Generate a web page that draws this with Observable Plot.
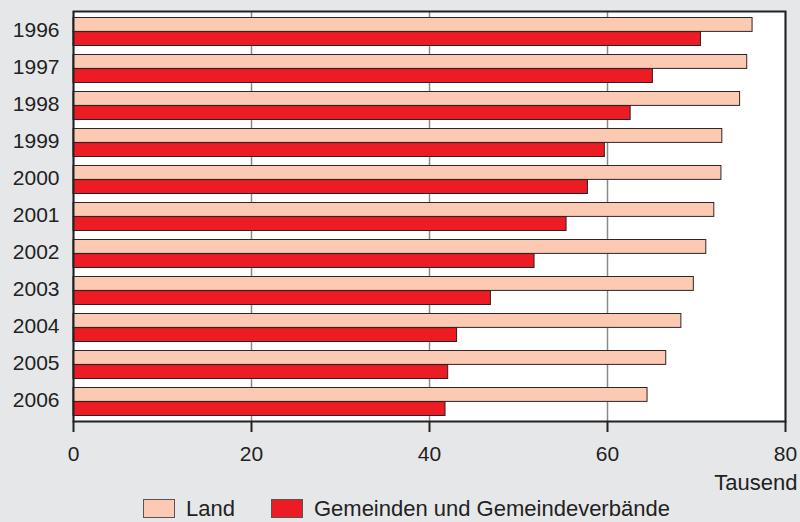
<!DOCTYPE html>
<html>
<head>
<meta charset="utf-8">
<script src="https://cdn.jsdelivr.net/npm/d3@7"></script>
<script src="https://cdn.jsdelivr.net/npm/@observablehq/plot@0.6"></script>
<style>
  html, body { margin: 0; padding: 0; background: #e6e7e9; }
  #chart { width: 800px; height: 522px; overflow: hidden; font-family: "Liberation Sans", Arial, sans-serif; }
  #chart svg { display: block; }
  .legend { display: flex; align-items: center; height: 19px; line-height: 19px; margin-top: 3px; padding-left: 143px; font-size: 22px; color: #222; }
  .item { display: flex; align-items: center; height: 19px; }
  .item span.lbl { display: block; height: 19px; line-height: 19px; }
  .sw { box-sizing: border-box; width: 32px; height: 19px; border: 1px solid #555; margin-right: 11px; }
</style>
</head>
<body>
<div id="chart"></div>
<script>
const years = ["1996","1997","1998","1999","2000","2001","2002","2003","2004","2005","2006"];
const land = [76.3, 75.7, 74.9, 72.9, 72.8, 72.0, 71.1, 69.7, 68.3, 66.6, 64.5];
const gemeinden = [70.5, 65.1, 62.6, 59.7, 57.8, 55.4, 51.8, 46.9, 43.1, 42.1, 41.8];
const seriesNames = ["Land", "Gemeinden und Gemeindeverbände"];
const seriesColors = ["#fcc9b2", "#ed1c24"];
const xTicks = [0, 20, 40, 60, 80];
const unitLabel = ["Tausend"];

const rows = [];
years.forEach((y, i) => {
  rows.push({year: y, series: seriesNames[0], value: land[i]});
  rows.push({year: y, series: seriesNames[1], value: gemeinden[i]});
});

const font = "\"Liberation Sans\", Arial, sans-serif";

const chart = Plot.plot({
  width: 800,
  height: 496,
  marginLeft: 73,
  marginRight: 15,
  marginTop: 11,
  marginBottom: 75,
  style: {background: "transparent", fontFamily: font, fontSize: "21px", color: "#222"},
  x: {domain: [0, 80]},
  y: {domain: years, padding: 0},
  marks: [
    Plot.frame({fill: "white", stroke: null}),
    Plot.gridX(xTicks, {stroke: "#8a8a8a", strokeOpacity: 1, strokeWidth: 1.5}),
    Plot.barX(rows.filter(d => d.series === seriesNames[0]), {
      x: "value", y: "year", fill: seriesColors[0], stroke: "#2e2626", strokeWidth: 1,
      insetTop: 4.5, insetBottom: 18.6
    }),
    Plot.barX(rows.filter(d => d.series === seriesNames[1]), {
      x: "value", y: "year", fill: seriesColors[1], stroke: "#2e2020", strokeWidth: 1,
      insetTop: 18.6, insetBottom: 4.5
    }),
    Plot.frame({stroke: "#222", strokeWidth: 2}),
    Plot.axisY({tickSize: 0, tickPadding: 14, label: null, fill: "#222", dy: -2}),
    Plot.axisX(xTicks, {tickSize: 11, tickPadding: 14, label: null, stroke: "#222", strokeWidth: 2, fill: "#222"}),
    Plot.text(unitLabel, {text: d => d, frameAnchor: "bottom-right", textAnchor: "end", lineAnchor: "middle", dx: 12, dy: 61, fontSize: 22, fill: "#222"})
  ]
});

const root = document.getElementById("chart");
root.appendChild(chart);

const legend = document.createElement("div");
legend.className = "legend";
seriesNames.forEach((name, i) => {
  const item = document.createElement("div");
  item.className = "item";
  if (i > 0) item.style.marginLeft = "36px";
  const sw = document.createElement("span");
  sw.className = "sw";
  sw.style.background = seriesColors[i];
  const label = document.createElement("span");
  label.className = "lbl";
  label.textContent = name;
  item.appendChild(sw);
  item.appendChild(label);
  legend.appendChild(item);
});
root.appendChild(legend);
</script>
</body>
</html>
